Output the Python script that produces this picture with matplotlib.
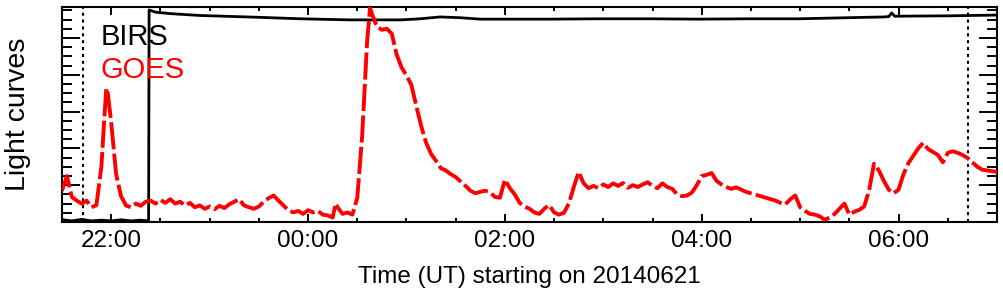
import matplotlib
matplotlib.use('Agg')
from matplotlib import pyplot as plt
from matplotlib.ticker import MultipleLocator, FuncFormatter

plt.rcParams['font.family'] = ['Liberation Sans', 'DejaVu Sans']

# time in hours since 2014-06-21 00:00 UT, values in arbitrary units
goes_t = [21.50, 21.55, 21.60, 21.65, 21.70, 21.75, 21.80, 21.85, 21.90, 21.925,
          21.95, 21.965, 22.00, 22.05, 22.10, 22.15, 22.20, 22.25, 22.30, 22.35,
          22.40, 22.45, 22.50, 22.55, 22.60, 22.65, 22.70, 22.75, 22.80, 22.85,
          22.90, 22.95, 23.00, 23.05, 23.10, 23.15, 23.20, 23.25, 23.30, 23.35,
          23.40, 23.45, 23.50, 23.55, 23.60, 23.65, 23.70, 23.75, 23.80, 23.85,
          23.90, 23.95, 24.00, 24.05, 24.10, 24.15, 24.20, 24.25, 24.28, 24.30,
          24.35, 24.40, 24.45, 24.50, 24.55, 24.60, 24.63, 24.65, 24.70, 24.75,
          24.80, 24.85, 24.90, 24.95, 25.00, 25.05, 25.10, 25.15, 25.20, 25.25,
          25.30, 25.35, 25.40, 25.45, 25.50, 25.55, 25.60, 25.65, 25.70, 25.75,
          25.80, 25.85, 25.90, 25.95, 26.00, 26.05, 26.10, 26.15, 26.20, 26.25,
          26.30, 26.35, 26.40, 26.45, 26.50, 26.55, 26.60, 26.65, 26.70, 26.75,
          26.80, 26.85, 26.90, 26.95, 27.00, 27.05, 27.10, 27.15, 27.20, 27.25,
          27.30, 27.35, 27.40, 27.45, 27.50, 27.55, 27.60, 27.65, 27.70, 27.75,
          27.80, 27.85, 27.90, 27.95, 28.00, 28.05, 28.10, 28.15, 28.20, 28.25,
          28.30, 28.35, 28.40, 28.45, 28.50, 28.55, 28.60, 28.65, 28.70, 28.75,
          28.80, 28.85, 28.90, 28.95, 29.00, 29.05, 29.10, 29.15, 29.20, 29.25,
          29.30, 29.35, 29.40, 29.45, 29.50, 29.55, 29.60, 29.65, 29.70, 29.75,
          29.80, 29.85, 29.90, 29.95, 30.00, 30.05, 30.10, 30.15, 30.20, 30.25,
          30.30, 30.35, 30.40, 30.45, 30.50, 30.55, 30.60, 30.65, 30.70, 30.75,
          30.80, 30.85, 30.90, 30.95, 31.00]
goes_v = [0.85, 1.25, 0.68, 0.58, 0.50, 0.58, 0.40, 0.46, 1.50, 2.60,
          3.64, 3.50, 2.70, 1.30, 0.70, 0.45, 0.40, 0.50, 0.44, 0.55,
          0.58, 0.50, 0.60, 0.52, 0.62, 0.50, 0.55, 0.45, 0.52, 0.40,
          0.45, 0.36, 0.42, 0.35, 0.44, 0.38, 0.48, 0.55, 0.62, 0.45,
          0.40, 0.36, 0.42, 0.55, 0.65, 0.72, 0.58, 0.45, 0.32, 0.26,
          0.30, 0.22, 0.32, 0.26, 0.30, 0.20, 0.18, 0.12, 0.50, 0.40,
          0.22, 0.26, 0.20, 0.65, 2.35, 4.90, 5.82, 5.65, 5.30, 5.22,
          5.25, 5.12, 4.55, 4.20, 3.98, 3.72, 3.15, 2.60, 2.15, 1.85,
          1.66, 1.46, 1.40, 1.30, 1.22, 1.10, 0.98, 0.85, 0.78, 0.82,
          0.85, 0.80, 0.68, 0.66, 1.15, 0.92, 0.75, 0.52, 0.42, 0.36,
          0.26, 0.22, 0.36, 0.46, 0.26, 0.20, 0.25, 0.50, 0.95, 1.36,
          1.05, 0.92, 0.98, 0.92, 1.02, 0.95, 1.05, 0.98, 1.06, 0.93,
          1.00, 0.95, 1.02, 1.08, 0.98, 0.92, 1.05, 0.95, 0.90, 0.75,
          0.70, 0.72, 0.80, 1.00, 1.25, 1.28, 1.33, 1.12, 1.02, 0.95,
          0.90, 0.94, 0.88, 0.82, 0.78, 0.74, 0.70, 0.66, 0.62, 0.58,
          0.52, 0.48, 0.62, 0.72, 0.40, 0.30, 0.22, 0.20, 0.15, 0.06,
          0.12, 0.22, 0.36, 0.50, 0.20, 0.28, 0.33, 0.42, 0.85, 1.58,
          1.40, 1.12, 0.88, 0.78, 0.88, 1.30, 1.60, 1.80, 2.00, 2.15,
          1.98, 1.90, 1.82, 1.62, 1.88, 1.92, 1.88, 1.82, 1.74, 1.62,
          1.50, 1.42, 1.40, 1.38, 1.36]

birs_t = [21.51, 21.6, 21.7, 21.8, 21.9, 22.0, 22.1, 22.2, 22.3, 22.38,
          22.385, 22.45, 22.6, 22.9, 23.5, 23.92, 24.43, 24.94, 25.14, 25.34,
          25.54, 25.75, 26.45, 26.96, 27.47, 27.97, 28.48, 28.99, 29.5, 29.85,
          29.9, 29.93, 29.96, 30.5, 30.98]
birs_v = [0.06, 0.03, 0.07, 0.03, 0.05, 0.03, 0.06, 0.03, 0.05, 0.03,
          5.76, 5.70, 5.66, 5.61, 5.56, 5.52, 5.49, 5.49, 5.52, 5.57,
          5.55, 5.51, 5.51, 5.52, 5.52, 5.51, 5.52, 5.52, 5.55, 5.57,
          5.58, 5.68, 5.59, 5.60, 5.62]

marks = [21.713, 30.710]


def hhmm(h, pos):
    return '%02d:%02d' % (int(h) % 24, int(round((h % 1) * 60)))


fig = plt.figure(figsize=(10.04, 2.96), dpi=100)
ax = fig.add_axes([62 / 1004, 74 / 296, 935 / 1004, 215 / 296])

ax.plot(birs_t, birs_v, color='black', lw=2.0, zorder=2)
ax.plot(goes_t, goes_v, color='red', lw=2.8, dashes=(7, 1.1), zorder=3)
for m in marks:
    ax.axvline(m, color='black', lw=1.5, dashes=(1.5, 1.8), zorder=1)

ax.set_xlim(21.5, 31.0)
ax.set_ylim(0, 5.84)
ax.xaxis.set_major_locator(MultipleLocator(2))
ax.xaxis.set_minor_locator(MultipleLocator(0.5))
ax.xaxis.set_major_formatter(FuncFormatter(hhmm))
ax.yaxis.set_major_locator(MultipleLocator(1))
ax.yaxis.set_minor_locator(MultipleLocator(0.25))

ax.tick_params(which='both', direction='in', top=True, right=True, width=1.4)
ax.tick_params(axis='x', which='major', length=6, labelsize=17.5, pad=6)
ax.tick_params(axis='x', which='minor', length=3)
ax.tick_params(axis='y', which='major', length=13, labelleft=False)
ax.tick_params(axis='y', which='minor', length=7)
for s in ax.spines.values():
    s.set_linewidth(1.5)

ax.set_xlabel('Time (UT) starting on 20140621', fontsize=17.5, labelpad=10)
ax.set_ylabel('Light curves', fontsize=20.5, labelpad=19)

ax.text(0.041, 0.86, 'BIRS', transform=ax.transAxes, fontsize=21,
        color='black', va='center', ha='left')
ax.text(0.041, 0.707, 'GOES', transform=ax.transAxes, fontsize=21,
        color='red', va='center', ha='left')

plt.savefig('out.png', dpi=100)
